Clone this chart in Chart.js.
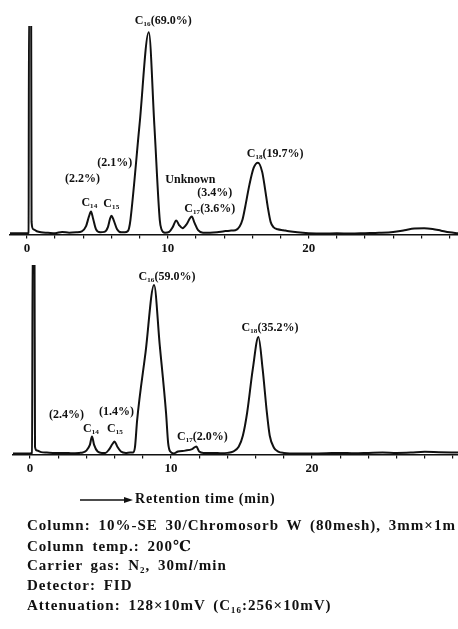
<!DOCTYPE html>
<html>
<head>
<meta charset="utf-8">
<script src="https://cdn.jsdelivr.net/npm/chart.js"></script>
<style>
  body { margin: 0; background: #fff; width: 458px; height: 629px; overflow: hidden; position: relative; }
  canvas { position: absolute; left: 0; }
  .note { position: absolute; left: 27px; font-family: "Liberation Serif", "DejaVu Serif", serif; font-weight: bold; font-size: 15px; letter-spacing: 1px; word-spacing: 3px; white-space: nowrap; color: #111; }
  #axisTitle { position: absolute; left: 135px; top: 491px; font-family: "Liberation Serif", serif; font-weight: bold; font-size: 14px; letter-spacing: 0.8px; color: #111; }
</style>
</head>
<body>
<canvas id="topchart" width="458" height="258" style="top:0px"></canvas>
<canvas id="bottomchart" width="458" height="238" style="top:240px"></canvas>

<svg style="position:absolute;left:0;top:0" width="458" height="629">
  <line x1="80" y1="500" x2="126" y2="500" stroke="#111" stroke-width="1.5"/>
  <polygon points="124,497 133,500 124,503" fill="#111"/>
</svg>
<div id="axisTitle">Retention time (min)</div>

<div class="note" style="top:517px">Column: 10%-SE 30/Chromosorb W (80mesh), 3mm×1m</div>
<div class="note" style="top:537px">Column temp.: 200℃</div>
<div class="note" style="top:557px">Carrier gas: N₂, 30m<i>l</i>/min</div>
<div class="note" style="top:577px">Detector: FID</div>
<div class="note" style="top:597px">Attenuation: 128×10mV (C₁₆:256×10mV)</div>

<script>
//TOP CHROMATOGRAM ----------------------------------------------------
var topTime = [
  -1.2, -0.5, 0.0, 0.12, 0.15, 0.3, 0.33, 0.45, 0.7, 1.0,
  1.5, 2.0, 2.5, 3.0, 3.5, 3.9, 4.2, 4.4, 4.55, 4.7,
  4.9, 5.2, 5.5, 5.75, 5.9, 6.0, 6.15, 6.4, 6.7, 6.95,
  7.15, 7.25, 7.35, 8.0, 8.65, 9.05, 9.43, 9.55, 9.8, 10.1,
  10.35, 10.6, 10.8, 11.05, 11.35, 11.55, 11.7, 11.9, 12.15, 12.5,
  13.0, 13.5, 14.0, 14.4, 14.8, 15.1, 15.3, 15.5, 15.8, 16.1,
  16.4, 16.7, 16.9, 17.1, 17.3, 17.5, 17.8, 18.2, 18.6, 19.2,
  20, 21, 22, 23, 24, 25, 26, 26.8, 27.5, 28.2,
  28.8, 29.4, 30, 30.6
];
var topSignal = [
  0.5, 0.5, 0.5, 0.8, 110, 110, 6, 2.5, 1.5, 1,
  0.8, 0.6, 1.2, 0.8, 1, 1.5, 4, 8.5, 11, 7.5,
  2.5, 1, 1.2, 3.5, 7.5, 9, 7, 2.5, 1, 1,
  1.5, 3, 7, 53, 97, 52, 7, 2.5, 0.8, 1.2,
  3.5, 6.7, 4.5, 3, 5, 7.5, 8.6, 5.5, 2, 0.8,
  0.8, 1, 1.5, 1.8, 2, 3.8, 7, 13.4, 24, 32,
  34.4, 30, 22, 13, 6, 3.5, 2.5, 2, 1.5, 1,
  0.6, 0.4, 0.5, 0.4, 0.6, 0.8, 1.2, 2, 2.8, 3,
  2.6, 1.8, 1, 0.6
];
//peak labels: text, retention time, signal level
var topLabels = ["C₁₆(69.0%)", "(2.1%)", "(2.2%)", "C₁₄", "C₁₅", "Unknown", "(3.4%)", "C₁₇(3.6%)", "C₁₈(19.7%)"];
var topLabelTime = [9.68, 6.24, 3.94, 4.43, 5.99, 11.6, 13.33, 12.98, 17.62];
var topLabelSignal = [102.4, 34.4, 26.8, 15.3, 14.4, 26.3, 20.1, 12.4, 38.8];

//BOTTOM CHROMATOGRAM -------------------------------------------------
var bottomTime = [
  -1.2, -0.5, 0.0, 0.15, 0.2, 0.32, 0.36, 0.5, 0.8, 1.2,
  1.8, 2.5, 3.0, 3.5, 3.75, 4.0, 4.25, 4.4, 4.55, 4.8,
  5.1, 5.35, 5.6, 5.85, 6.0, 6.2, 6.45, 6.8, 7.1, 7.3,
  7.45, 7.6, 8.2, 8.8, 9.2, 9.65, 9.8, 9.95, 10.2, 10.5,
  11.0, 11.5, 11.8, 12.0, 12.3, 13.0, 13.6, 14.0, 14.4, 14.8,
  15.1, 15.4, 15.8, 16.2, 16.5, 16.8, 17.0, 17.3, 17.6, 18.0,
  19.0, 20, 21, 22, 23, 24, 25, 26, 27, 28,
  29, 30.35
];
var bottomSignal = [
  0.5, 0.5, 0.5, 0.8, 120, 120, 4, 2, 1.2, 1,
  0.8, 0.8, 0.6, 0.8, 1, 2, 5, 9.5, 5, 1.5,
  0.8, 0.8, 2.5, 5.5, 6.8, 4, 1.5, 0.8, 1, 1,
  4, 18, 54, 89.5, 58, 22, 6, 1.5, 0.5, 1.5,
  2, 2.8, 4.2, 1.5, 0.8, 0.8, 0.6, 0.8, 1.5, 4,
  10, 22, 45, 62, 45, 22, 10, 3.5, 1.5, 0.8,
  0.5, 0.5, 0.6, 0.8, 0.6, 0.8, 1, 0.8, 1, 1.4,
  1.2, 1
];
var bottomLabels = ["C₁₆(59.0%)", "C₁₈(35.2%)", "(2.4%)", "(1.4%)", "C₁₄", "C₁₅", "C₁₇(2.0%)"];
var bottomLabelTime = [9.72, 17.02, 2.59, 6.13, 4.33, 6.03, 12.23];
var bottomLabelSignal = [93.7, 66.8, 21.1, 22.6, 13.7, 13.2, 9.5];

var xTicksLabelled = [0, 10, 20];

//turn two arrays into {x, y} points
function toPoints(xs, ys) {
  var pts = [];
  for (var i = 0; i < xs.length; i++) {
    pts.push({ x: xs[i], y: ys[i] });
  }
  return pts;
}

//draws the peak names on top of the trace
var peakLabelPlugin = {
  id: 'peakLabels',
  afterDatasetsDraw: function (chart, args, opts) {
    var ctx = chart.ctx;
    var xs = chart.scales.x, ys = chart.scales.y;
    ctx.save();
    ctx.font = 'bold 12px "Liberation Serif", "DejaVu Serif", serif';
    ctx.fillStyle = '#111';
    ctx.textAlign = 'center';
    ctx.textBaseline = 'middle';
    for (var i = 0; i < opts.text.length; i++) {
      ctx.fillText(opts.text[i], xs.getPixelForValue(opts.time[i]), ys.getPixelForValue(opts.signal[i]));
    }
    ctx.restore();
  }
};

function makeChart(id, xs, ys, xmin, xmax, padTop, padLeft, labels, labelTime, labelSignal) {
  return new Chart(id, {
    type: 'line',
    data: {
      datasets: [{
        data: toPoints(xs, ys),
        borderColor: '#111',
        borderWidth: 2,
        pointRadius: 0,
        fill: false,
        cubicInterpolationMode: 'monotone'
      }]
    },
    options: {
      responsive: false,
      animation: false,
      layout: { padding: { top: padTop, left: padLeft, right: 0, bottom: 0 } },
      plugins: {
        legend: { display: false },
        tooltip: { enabled: false },
        peakLabels: { text: labels, time: labelTime, signal: labelSignal }
      },
      scales: {
        x: {
          type: 'linear',
          min: xmin,
          max: xmax,
          border: { display: true, color: '#111', width: 1.5 },
          grid: { drawOnChartArea: false, color: '#111', tickLength: 4, lineWidth: 1.2 },
          ticks: {
            stepSize: 2,
            includeBounds: false,
            autoSkip: false,
            maxRotation: 0,
            padding: 2,
            color: '#111',
            font: { family: '"Liberation Serif", serif', size: 13, weight: 'bold' },
            callback: function (v) { return xTicksLabelled.indexOf(v) >= 0 ? String(v) : ''; }
          }
        },
        y: { display: false, min: 0, max: 100 }
      }
    },
    plugins: [peakLabelPlugin]
  });
}

makeChart("topchart", topTime, topSignal, -1.2, 30.6, 26, 10, topLabels, topLabelTime, topLabelSignal);
makeChart("bottomchart", bottomTime, bottomSignal, -1.2, 30.35, 25, 13, bottomLabels, bottomLabelTime, bottomLabelSignal);
</script>
</body>
</html>
